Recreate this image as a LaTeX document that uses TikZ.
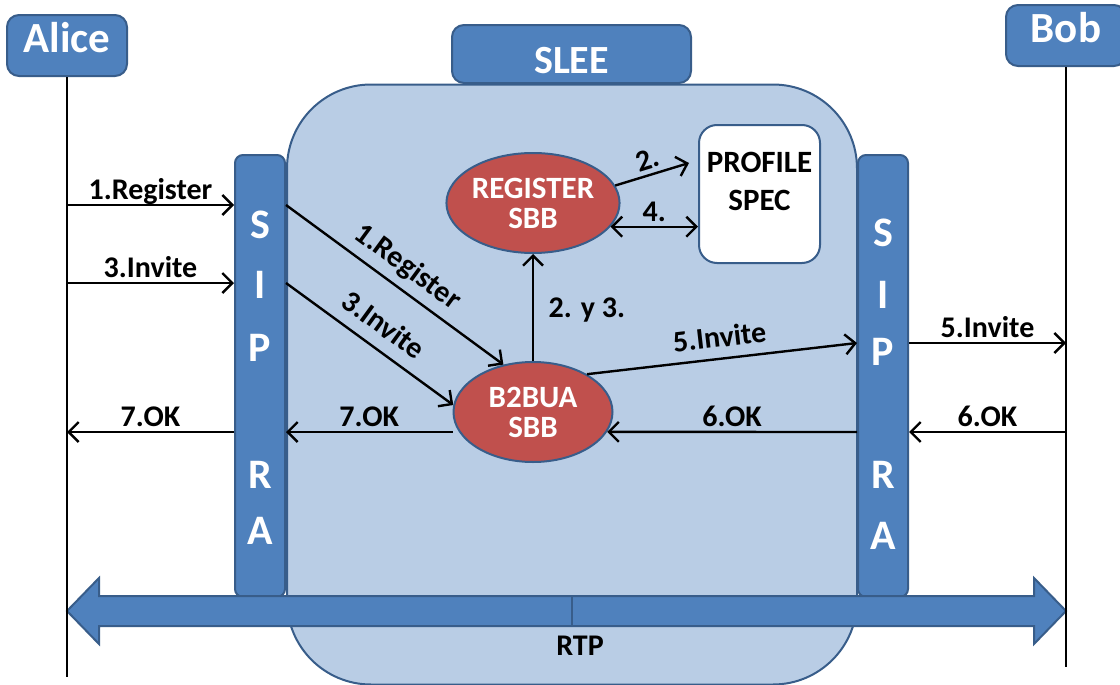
\documentclass[tikz,border=0pt]{standalone}
\usepackage{fontspec}
\setmainfont{Carlito}
\usetikzlibrary{arrows.meta,shapes.geometric,positioning}
\definecolor{fillblue}{HTML}{4F81BD}
\definecolor{lineblue}{HTML}{385D8A}
\definecolor{sleeblue}{HTML}{B9CDE5}
\definecolor{sbbred}{HTML}{C0504D}

\begin{document}
\begin{tikzpicture}[x=0.5pt,y=-0.5pt,>={Straight Barb[length=5pt,width=10pt]},
                    line width=1.2pt,
                    actor/.style={draw=lineblue,fill=fillblue,line width=1pt,rounded corners=6pt,
                                  minimum width=60pt,minimum height=30.5pt,text=white,
                                  text height=13.9pt,text depth=6.5pt,inner sep=0pt,
                                  font=\fontsize{21.5}{24}\bfseries\selectfont},
                    sipbar/.style={draw=lineblue,fill=fillblue,line width=1pt,rounded corners=4pt,
                                   minimum width=25pt,minimum height=221pt},
                    sipletter/.style={text=white,font=\fontsize{21}{21}\bfseries\selectfont},
                    sbb/.style={ellipse,draw=lineblue,fill=sbbred,line width=1pt,text=white,
                                minimum width=79.5pt,minimum height=50pt,align=center,inner sep=0pt,
                                font=\fontsize{15.5}{15}\bfseries\selectfont},
                    msg/.style={font=\fontsize{15}{17}\bfseries\selectfont,inner sep=2.2pt,
                                text depth=0pt}]

\useasboundingbox (0,0) rectangle (1120,685);

% container and title
\node[draw=lineblue,fill=sleeblue,line width=1pt,rounded corners=42pt,
      minimum width=285pt,minimum height=300pt] (slee) at (572,384.5) {};
\node[actor,minimum width=119.5pt,minimum height=29pt,text height=19pt,text depth=0pt,
      font=\fontsize{20}{22}\bfseries\selectfont] (sleeTitle) at (571.5,54) {SLEE};

% end points
\node[actor] (alice) at (67,45.5) {Alice};
\node[actor] (bob) at (1066,35.5) {Bob};

% SIP RA bars
\node[sipbar] (sipL) at (260,376) {};
\node[sipbar] (sipR) at (883,376) {};
\foreach \l/\yl/\yr in {S/225/233,I/285/295,P/348/352,R/475/475,A/531/536}
{
  \node[sipletter] (sipL-\l) at (260,\yl) {\l};
  \node[sipletter] (sipR-\l) at (883,\yr) {\l};
}

% SBBs and profile
\node[sbb] (reg) at (533,203) {REGISTER\\SBB};
\node[sbb] (b2bua) at (533,412) {B2BUA\\SBB};
\node[draw=lineblue,fill=white,line width=1pt,rounded corners=9pt,
      minimum width=60.5pt,minimum height=69pt] (profile) at (759.5,194) {};
\node[font=\fontsize{15.5}{19}\bfseries\selectfont,align=center] (profileText)
      at ([yshift=6.5pt]profile.center) {PROFILE\\SPEC};

% messages
\coordinate (aReg) at (67,205);
\coordinate (aInv) at (67,283);
\coordinate (aOk) at (67,432);
\coordinate (bInv) at (1066,343);
\coordinate (bOk) at (1066,432);

\path[->] (aReg) edge node[msg,above] {1.Register} (aReg -| sipL.west)
          (aInv) edge node[msg,above] {3.Invite} (aInv -| sipL.west)
          (aOk -| sipL.west) edge node[msg,above] {7.OK} (aOk)
          (sipL.east |- aReg) edge node[msg,above=4pt,sloped] {1.Register} (b2bua.122)
          (sipL.east |- aInv) edge node[msg,above=4pt,sloped] {3.Invite} (b2bua.175)
          (b2bua.west |- aOk) edge node[msg,above] {7.OK} (sipL.east |- aOk)
          (b2bua.north) edge node[msg,right=5pt] {2. y 3.} (reg.south)
          (reg.12) edge node[msg,above,sloped] {2.} ([shift={(-9,-31)}]profile.west)
          (b2bua.35) edge node[msg,above=3pt,sloped] {5.Invite} (sipR.west |- bInv)
          (sipR.west |- bOk) edge node[msg,above] {6.OK} (b2bua.-15)
          (sipR.east |- bInv) edge node[msg,above] {5.Invite} (bInv)
          (bOk) edge node[msg,above] {6.OK} (sipR.east |- bOk);
\draw[<->] (reg.-17) -- node[msg,above] {4.} (reg.-17 -| profile.west);

% RTP
\draw[draw=lineblue,fill=fillblue,line width=1pt] (67,611) -- (99,578) -- (99,596)
     -- (1034,596) -- (1034,578) -- (1066,611) -- (1034,644) -- (1034,626)
     -- (99,626) -- (99,644) -- cycle;
\draw[lineblue,line width=1pt] (572,596) -- (572,626);
\node[font=\fontsize{15}{16}\bfseries\selectfont] (rtp) at (580,646) {RTP};

% life lines
\coordinate (aliceEnd) at (67,677);
\coordinate (bobEnd) at (1066,667);
\draw (alice.south) -- (aliceEnd);
\draw (bob.south) -- (bobEnd);

\end{tikzpicture}
\end{document}
